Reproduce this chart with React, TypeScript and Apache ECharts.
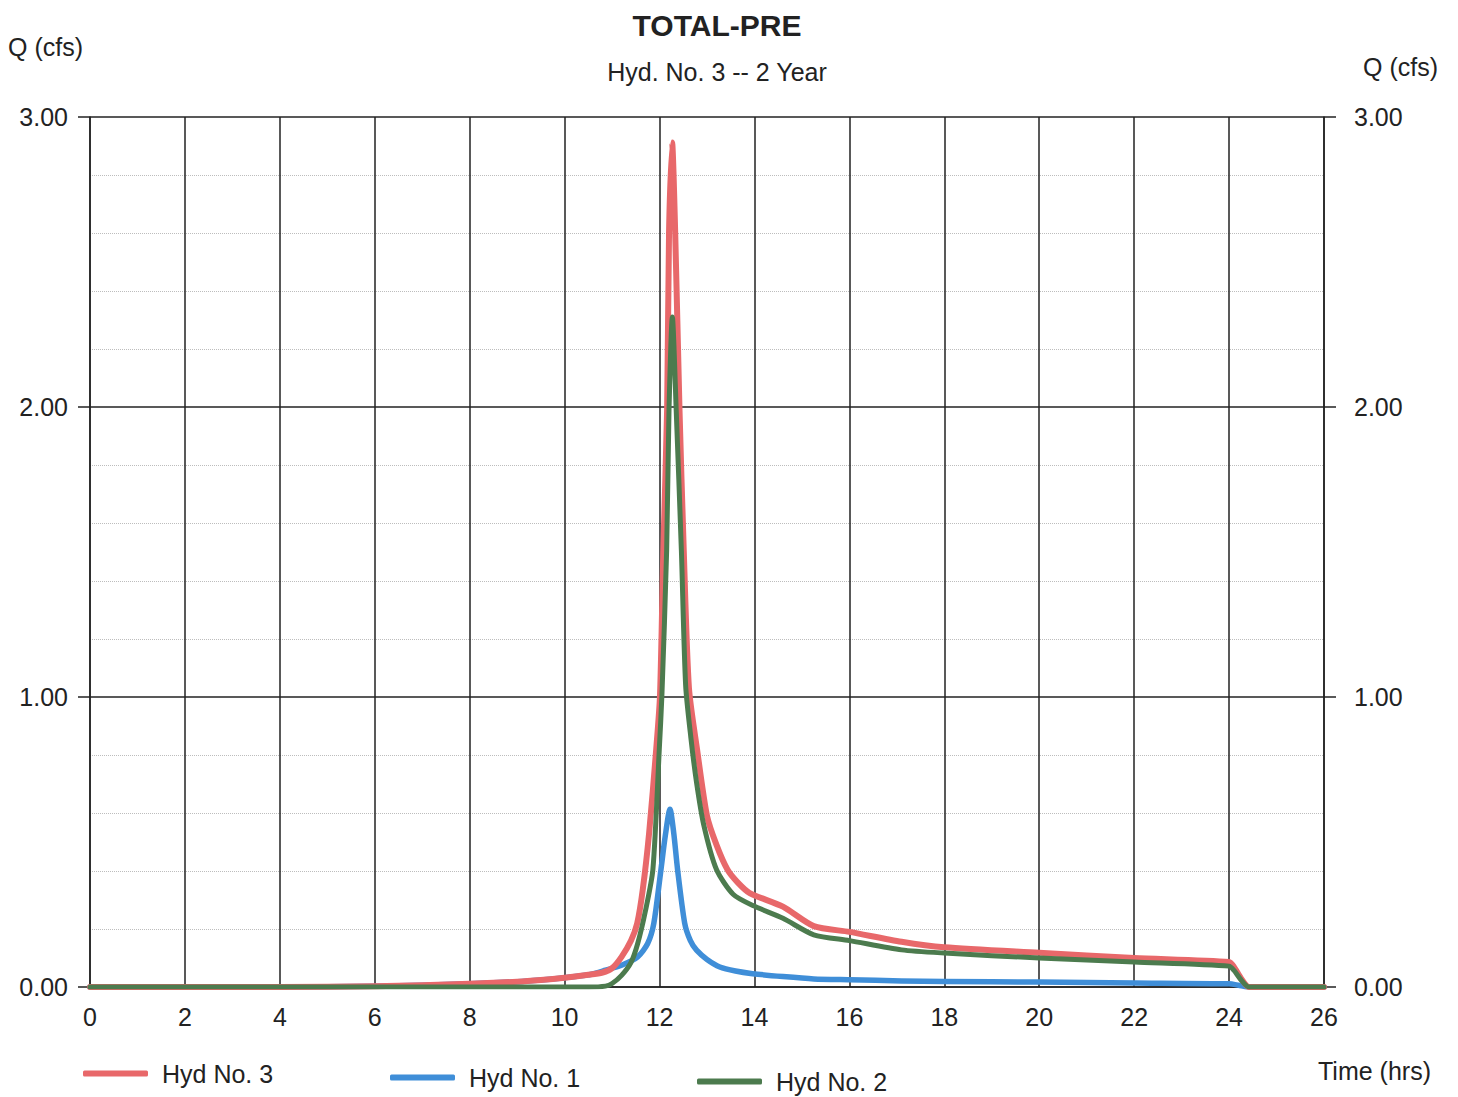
import React, { useEffect, useRef } from "react";
import * as echarts from "echarts";

// ---- Data (time in hrs, flow in cfs) ----
const hyd3Time = [0, 2, 4, 6, 7, 8, 9, 9.5, 10, 10.5, 10.8, 11.0, 11.2, 11.4, 11.53, 11.65, 11.78, 11.93, 12.01, 12.08, 12.16, 12.2, 12.265, 12.33, 12.42, 12.51, 12.62, 12.79, 13.0, 13.2, 13.43, 13.65, 13.9, 14.6, 15.25, 16.0, 17.1, 18.0, 20.0, 22.0, 24.0, 24.1, 24.25, 24.42, 26];
const hyd3Flow = [0, 0, 0, 0.003, 0.006, 0.011, 0.018, 0.024, 0.032, 0.042, 0.05, 0.065, 0.104, 0.16, 0.22, 0.34, 0.53, 0.82, 1.006, 1.506, 1.994, 2.6, 2.912, 2.6, 1.994, 1.506, 1.03, 0.82, 0.59, 0.49, 0.405, 0.36, 0.324, 0.277, 0.21, 0.19, 0.156, 0.137, 0.118, 0.1, 0.086, 0.07, 0.03, 0.0, 0];

const hyd1Time = [0, 2, 4, 6, 7, 8, 9, 9.5, 10, 10.5, 10.86, 11.2, 11.54, 11.75, 11.88, 12.03, 12.12, 12.22, 12.3, 12.38, 12.53, 12.65, 12.78, 13.0, 13.27, 13.6, 13.96, 14.6, 15.25, 16.0, 17.1, 18, 20, 22, 24, 24.2, 24.4, 26];
const hyd1Flow = [0, 0, 0, 0.003, 0.006, 0.011, 0.018, 0.024, 0.032, 0.042, 0.058, 0.075, 0.104, 0.15, 0.22, 0.405, 0.52, 0.613, 0.53, 0.405, 0.22, 0.16, 0.127, 0.095, 0.069, 0.055, 0.046, 0.036, 0.028, 0.025, 0.021, 0.019, 0.017, 0.014, 0.011, 0.006, 0.0, 0];

const hyd2Time = [0, 10.5, 10.86, 11.0, 11.2, 11.4, 11.54, 11.7, 11.86, 11.995, 12.05, 12.15, 12.2, 12.27, 12.35, 12.46, 12.55, 12.66, 12.78, 12.93, 13.2, 13.55, 13.98, 14.6, 15.25, 16.0, 17.1, 18, 20, 22, 24, 24.1, 24.25, 24.42, 26];
const hyd2Flow = [0, 0, 0.003, 0.012, 0.04, 0.085, 0.15, 0.26, 0.405, 0.82, 1.006, 1.506, 1.994, 2.31, 1.994, 1.506, 1.04, 0.86, 0.705, 0.56, 0.405, 0.32, 0.28, 0.237, 0.18, 0.16, 0.128, 0.117, 0.1, 0.086, 0.072, 0.058, 0.025, 0.0, 0];

const seriesNames = ["Hyd No. 3", "Hyd No. 1", "Hyd No. 2"];
const titleText = "TOTAL-PRE";
const subtitleText = "Hyd. No. 3 -- 2 Year";
const yAxisName = "Q (cfs)";
const xAxisName = "Time (hrs)";

const RED = "#E8686A";
const BLUE = "#3F8ED8";
const GREEN = "#4C7B4E";
const INK = "#222222";
const FONT = "'Liberation Sans', Arial, sans-serif";

export default function App() {
  const ref = useRef<HTMLDivElement>(null);

  useEffect(() => {
    const chart = echarts.init(ref.current as HTMLDivElement, null, { renderer: "svg" });
    const pairs = (t: number[], v: number[]) => t.map((x, i) => [x, v[i]]);

    const lineSeries = (name: string, t: number[], v: number[], color: string, width: number) => ({
      name,
      type: "line",
      data: pairs(t, v),
      showSymbol: false,
      symbol: "none",
      smooth: 0.25,
      yAxisIndex: 0,
      lineStyle: { color, width, cap: "round", join: "round" },
      itemStyle: { color },
    });

    const legendFor = (name: string, left: number, top: number) => ({
      data: [name],
      left,
      top,
      padding: 0,
      icon: "roundRect",
      itemWidth: 65,
      itemHeight: 6,
      selectedMode: false,
      textStyle: { color: INK, fontSize: 25, fontFamily: FONT, padding: [0, 0, 0, 9] },
    });

    const txt = (text: string, x: number, y: number, size: number, align: string, bold = false) => ({
      type: "text",
      x,
      y,
      style: {
        text,
        fill: INK,
        fontSize: size,
        fontWeight: bold ? "bold" : "normal",
        fontFamily: FONT,
        align,
        verticalAlign: "middle",
      },
    });

    chart.setOption({
      animation: false,
      backgroundColor: "#ffffff",
      textStyle: { fontFamily: FONT },
      grid: { left: 90, top: 117, width: 1234, height: 870, containLabel: false },
      xAxis: {
        type: "value",
        min: 0,
        max: 26,
        interval: 2,
        axisLine: { show: true, lineStyle: { color: INK, width: 1.5 } },
        axisTick: { show: false },
        axisLabel: { color: INK, fontSize: 25, margin: 17, fontFamily: FONT },
        splitLine: { show: true, lineStyle: { color: INK, width: 1.5 } },
      },
      yAxis: [
        {
          type: "value",
          position: "left",
          min: 0,
          max: 3,
          interval: 1,
          axisLine: { show: true, lineStyle: { color: INK, width: 1.5 } },
          axisTick: { show: true, length: 12, lineStyle: { color: INK, width: 1.5 } },
          axisLabel: {
            color: INK,
            fontSize: 25,
            margin: 22,
            fontFamily: FONT,
            formatter: (v: number) => v.toFixed(2),
          },
          splitLine: { show: true, lineStyle: { color: INK, width: 1.5 } },
          minorTick: { show: false, splitNumber: 5 },
          minorSplitLine: { show: true, lineStyle: { color: "#bdbdbd", width: 1, type: "dotted" } },
        },
        {
          type: "value",
          position: "right",
          min: 0,
          max: 3,
          interval: 1,
          axisLine: { show: true, lineStyle: { color: INK, width: 1.5 } },
          axisTick: { show: true, length: 12, lineStyle: { color: INK, width: 1.5 } },
          axisLabel: {
            color: INK,
            fontSize: 25,
            margin: 30,
            fontFamily: FONT,
            formatter: (v: number) => v.toFixed(2),
          },
          splitLine: { show: false },
        },
      ],
      legend: [
        legendFor(seriesNames[0], 83, 1061),
        legendFor(seriesNames[1], 390, 1065),
        legendFor(seriesNames[2], 697, 1069),
      ],
      graphic: [
        txt(titleText, 717, 25, 30, "center", true),
        txt(subtitleText, 717, 72, 25, "center"),
        txt(yAxisName, 8, 47, 25, "left"),
        txt(yAxisName, 1363, 67, 25, "left"),
        txt(xAxisName, 1318, 1071, 25, "left"),
      ],
      series: [
        lineSeries(seriesNames[1], hyd1Time, hyd1Flow, BLUE, 5.5),
        lineSeries(seriesNames[0], hyd3Time, hyd3Flow, RED, 6),
        lineSeries(seriesNames[2], hyd2Time, hyd2Flow, GREEN, 5),
      ],
    });

    return () => chart.dispose();
  }, []);

  return (
    <div
      ref={ref}
      style={{ position: "absolute", left: 0, top: 0, width: 1458, height: 1097, background: "#fff" }}
    />
  );
}
